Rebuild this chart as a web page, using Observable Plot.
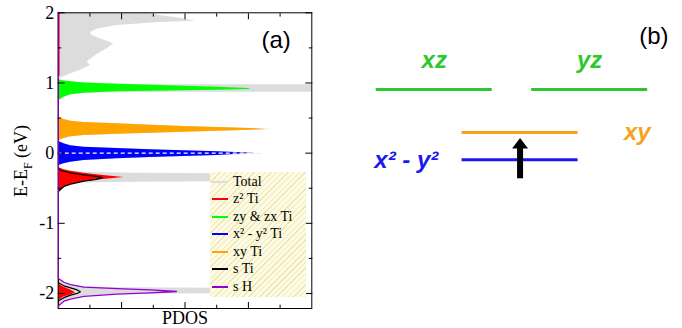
<!DOCTYPE html>
<html><head><meta charset="utf-8">
<script src="https://cdn.jsdelivr.net/npm/d3@7"></script>
<script src="https://cdn.jsdelivr.net/npm/@observablehq/plot@0.6"></script>
<style>
html,body{margin:0;padding:0;background:#fff;}
#wrap{position:relative;width:682px;height:328px;overflow:hidden;background:#fff;}
#pa{position:absolute;left:0;top:0;}
#pb{position:absolute;left:320px;top:0;}
#legend{position:absolute;left:210px;top:172px;width:96px;height:125px;
  background:repeating-linear-gradient(135deg,#fdfbe4 0px,#fdfbe4 3px,#ede6ae 3px,#ede6ae 4px);
  font-family:"Liberation Serif",serif;font-size:14px;color:#000;}
.row{position:absolute;left:0;height:16px;line-height:16px;white-space:nowrap;}
.sw{position:absolute;left:2px;top:7px;width:16px;height:2px;}
.lb{position:absolute;left:23px;top:0;}
</style></head><body>
<div id="wrap"><div id="pa"></div><div id="pb"></div><div id="legend"></div></div>
<script>
// ---------- Panel (a): PDOS, pairs of [E - E_F (eV), PDOS] ----------
const totalDOS = [
  [2.05,2.4],[2.0,2.8],[1.96,3.2],[1.93,3.75],[1.90,4.1],[1.88,4.33],[1.86,3.2],[1.82,1.86],
  [1.77,1.25],[1.72,1.02],[1.68,1.05],[1.63,1.33],[1.56,1.75],[1.49,1.55],[1.39,1.18],[1.30,0.91],
  [1.25,1.02],[1.18,0.70],[1.11,0.28],[1.07,0.1],[1.059,0.05],[1.035,0.12],[1.017,0.45],[1.0,0.9],
  [0.983,1.95],[0.976,3.5],[0.972,9.5],[0.87,9.5],[0.866,4.0],[0.86,1.9],[0.854,0.85],[0.831,0.42],
  [0.797,0.2],[0.75,0.02],[0.62,0],[0.504,0.02],[0.479,0.2],[0.455,0.42],[0.437,0.83],[0.418,1.9],
  [0.398,2.95],[0.38,4.0],[0.366,5.05],[0.351,6.1],[0.337,6.75],[0.327,6.15],[0.313,5.05],[0.299,4.0],
  [0.284,2.95],[0.27,1.9],[0.251,0.83],[0.233,0.42],[0.209,0.2],[0.18,0.02],[0.166,0.02],[0.133,0.2],
  [0.105,0.42],[0.085,0.83],[0.066,1.9],[0.048,2.95],[0.033,4.0],[0.019,5.05],[0.0,6.2],[-0.01,6.6],
  [-0.033,5.05],[-0.048,4.0],[-0.062,2.95],[-0.081,1.9],[-0.105,0.83],[-0.129,0.42],[-0.152,0.2],
  [-0.176,0.02],[-0.19,0.02],[-0.209,0.05],[-0.237,0.2],[-0.257,0.45],[-0.275,1.0],[-0.286,2.5],
  [-0.292,5.0],[-0.30,6.5],[-0.35,7.0],[-0.40,6.5],[-0.408,5.0],[-0.414,2.5],[-0.425,0.8],[-0.447,0.42],
  [-0.485,0.2],[-0.556,0.02],[-0.6,0],[-1.75,0],[-1.79,0.02],[-1.84,0.18],[-1.875,0.39],[-1.905,0.81],
  [-1.918,2.0],[-1.925,5.0],[-1.965,6.5],[-2.005,5.0],[-2.012,2.0],[-2.04,0.81],[-2.08,0.39],
  [-2.11,0.18],[-2.17,0.02],[-2.22,0]
];
const zyzxTi = [
  [1.07,0],[1.059,0.02],[1.035,0.07],[1.017,0.39],[1.0,0.81],[0.983,1.86],[0.969,2.91],[0.955,3.96],
  [0.94,5.02],[0.921,6.0],[0.914,6.07],[0.907,6.0],[0.897,5.02],[0.888,3.96],[0.883,2.91],[0.874,1.86],
  [0.854,0.81],[0.831,0.39],[0.797,0.18],[0.75,0.02],[0.74,0]
];
const xyTi = [
  [0.51,0],[0.504,0.02],[0.479,0.18],[0.455,0.39],[0.437,0.81],[0.418,1.86],[0.398,2.91],[0.38,3.96],
  [0.366,5.02],[0.351,6.07],[0.337,6.59],[0.327,6.07],[0.313,5.02],[0.299,3.96],[0.284,2.91],[0.27,1.86],
  [0.251,0.81],[0.233,0.39],[0.209,0.18],[0.18,0.02],[0.175,0]
];
const x2y2Ti = [
  [0.17,0],[0.166,0.02],[0.133,0.18],[0.105,0.39],[0.085,0.81],[0.066,1.86],[0.048,2.91],[0.033,3.96],
  [0.019,5.02],[0.0,6.17],[-0.033,5.02],[-0.048,3.96],[-0.062,2.91],[-0.081,1.86],[-0.105,0.81],
  [-0.129,0.39],[-0.152,0.18],[-0.176,0.02],[-0.18,0]
];
const z2Ti = [
  [2.05,0.06],[1.1,0.06],[1.08,0],[-0.2,0],[-0.209,0.02],[-0.237,0.18],[-0.257,0.39],[-0.286,0.81],
  [-0.314,1.34],[-0.346,2.07],[-0.38,1.34],[-0.404,0.81],[-0.447,0.39],[-0.485,0.18],[-0.556,0.02],
  [-0.57,0],[-1.86,0],[-1.87,0.02],[-1.91,0.18],[-1.95,0.39],[-1.99,0.55],[-2.02,0.39],[-2.05,0.18],
  [-2.10,0.02],[-2.11,0],[-2.22,0]
];
const sTi = [
  [2.05,0],[-0.22,0],[-0.25,0.1],[-0.28,0.39],[-0.309,0.81],[-0.33,1.2],[-0.35,1.39],[-0.375,1.2],
  [-0.40,0.81],[-0.44,0.39],[-0.475,0.18],[-0.54,0.02],[-0.56,0],[-1.83,0],[-1.85,0.02],[-1.89,0.18],
  [-1.92,0.39],[-1.95,0.6],[-1.976,0.70],[-2.0,0.6],[-2.024,0.39],[-2.06,0.18],[-2.10,0.02],
  [-2.12,0],[-2.22,0]
];
const sH = [
  [2.05,0],[-1.78,0],[-1.79,0.02],[-1.84,0.18],[-1.875,0.39],[-1.91,0.81],[-1.93,1.86],[-1.95,2.91],
  [-1.972,3.73],[-1.99,2.91],[-2.01,1.86],[-2.04,0.81],[-2.08,0.39],[-2.11,0.18],[-2.17,0.02],[-2.22,0]
];
const fermiLevel = [0];
const yMajorTicks = [-2, -1, 0, 1, 2];
const yMinorTicks = [-1.5, -0.5, 0.5, 1.5];
const xMajorTicks = [2, 4, 6];
const xMinorTicks = [1, 3, 5, 7];
const legendLabels = ["Total", "z² Ti", "zy & zx Ti", "x² - y² Ti", "xy Ti", "s Ti", "s H"];
const legendKeys = ["total", "z2", "zyzx", "x2y2", "xy", "sTi", "sH"];

// ---------- Panel (b): level scheme ----------
const levelNames = ["xz", "yz", "xy", "x² - y²"];
const levelEnergies = [0.9, 0.9, 0.35, 0];
const levelStarts = [0, 1.34, 0.74, 0.74];
const labelXs = [0.5, 1.84, 2.25, 0.26];
const labelEnergies = [1.27, 1.27, 0.35, 0];
const arrowX = [1.24];
const arrowFrom = [-0.243];
const arrowTo = [0.145];

// ---------- styles ----------
const C = {total: "#dcdcdc", z2: "#ff0000", zyzx: "#00ff00", x2y2: "#0000ff", xy: "#ffa500", sTi: "#000000", sH: "#9400d3"};
const CB = {xz: "#2dc82d", yz: "#2dc82d", xy: "#f7a21b", "x² - y²": "#1a1aee"};

const E = d => d[0], V = d => d[1];
const area = (data, fill) => Plot.areaX(data, {y: E, x: V, fill, clip: true});
const line = (data, stroke) => Plot.lineX(data, {y: E, x: V, stroke, strokeWidth: 1.3, clip: true});

const pa = Plot.plot({
  width: 320, height: 328,
  marginLeft: 57.7, marginRight: 8.7, marginTop: 12.3, marginBottom: 20,
  style: {fontFamily: "Liberation Serif", fontSize: "18px", background: "white", color: "black"},
  x: {domain: [0, 8]},
  y: {domain: [-2.214, 2]},
  marks: [
    area(totalDOS, C.total),
    area(zyzxTi, C.zyzx),
    area(xyTi, C.xy),
    area(x2y2Ti, C.x2y2),
    area(z2Ti, C.z2),
    Plot.ruleY(fermiLevel, {stroke: "white", strokeDasharray: "4,3", strokeWidth: 1.3}),
    line(sTi, C.sTi),
    Plot.frame({stroke: "black"}),
    line(sH, C.sH),
    Plot.axisY({anchor: "left", ticks: yMajorTicks, tickSize: -7, tickPadding: 11, tickFormat: d => String(d), label: null}),
    Plot.axisY({anchor: "left", ticks: yMinorTicks, tickSize: -3.5, tickFormat: () => "", label: null}),
    Plot.axisY({anchor: "right", ticks: yMajorTicks, tickSize: -7, tickFormat: () => "", label: null}),
    Plot.axisY({anchor: "right", ticks: yMinorTicks, tickSize: -3.5, tickFormat: () => "", label: null}),
    Plot.axisX({anchor: "bottom", ticks: xMajorTicks, tickSize: -6, tickFormat: () => "", label: null}),
    Plot.axisX({anchor: "bottom", ticks: xMinorTicks, tickSize: -3.3, tickFormat: () => "", label: null}),
    Plot.axisX({anchor: "top", ticks: xMajorTicks, tickSize: -6, tickFormat: () => "", label: null}),
    Plot.axisX({anchor: "top", ticks: xMinorTicks, tickSize: -3.3, tickFormat: () => "", label: null}),
    Plot.text(["PDOS"], {frameAnchor: "bottom", dy: 10, lineAnchor: "middle", fontSize: 18}),
    Plot.text(["(a)"], {frameAnchor: "top-right", dx: -21, dy: 28, textAnchor: "end", lineAnchor: "middle",
      fontSize: 24, fontFamily: "Liberation Sans"})
  ]
});
document.getElementById("pa").appendChild(pa);

// y-axis title with subscript
const ylab = d3.select(pa).append("text")
  .attr("transform", "translate(27,161) rotate(-90)")
  .attr("text-anchor", "middle")
  .attr("font-family", "Liberation Serif")
  .attr("font-size", 18)
  .attr("fill", "black");
ylab.append("tspan").text("E-E");
ylab.append("tspan").attr("dy", 5).attr("font-size", 12).text("F");
ylab.append("tspan").attr("dy", -5).text(" (eV)");

// legend
const leg = document.getElementById("legend");
legendLabels.forEach((lab, i) => {
  const row = document.createElement("div");
  row.className = "row";
  row.style.top = (1.7 + i * 17.55) + "px";
  row.style.width = "96px";
  const sw = document.createElement("div");
  sw.className = "sw";
  sw.style.background = C[legendKeys[i]];
  const lb = document.createElement("div");
  lb.className = "lb";
  lb.textContent = lab;
  row.appendChild(sw); row.appendChild(lb);
  leg.appendChild(row);
});

// ---------- Panel (b) ----------
const levels = levelNames.map((name, i) => ({name, e: levelEnergies[i], start: levelStarts[i]}));
const labels = levelNames.map((name, i) => ({name, x: labelXs[i], e: labelEnergies[i]}));
const arrows = arrowX.map((x, i) => ({x, from: arrowFrom[i], to: arrowTo[i]}));

const headSymbol = {
  draw(context, size) {
    const r = Math.sqrt(size / Math.PI);
    context.moveTo(-r, 0);
    context.lineTo(r, 0);
    context.lineTo(0, -1.3 * r);
    context.closePath();
  }
};

const pb = Plot.plot({
  width: 362, height: 328, margin: 0,
  style: {background: "white", color: "black"},
  x: {domain: [-0.48, 2.64], axis: null},
  y: {domain: [-2.16, 2.04], axis: null},
  color: {type: "identity"},
  marks: [
    Plot.ruleY(levels, {y: "e", x1: "start", x2: d => d.start + 1, stroke: d => CB[d.name], strokeWidth: 3}),
    Plot.text(labels, {x: "x", y: "e", text: "name", fill: d => CB[d.name], fontFamily: "Liberation Sans",
      fontWeight: "bold", fontStyle: "italic", fontSize: 24, lineAnchor: "middle"}),
    Plot.ruleX(arrows, {x: "x", y1: "from", y2: "to", stroke: "black", strokeWidth: 6}),
    Plot.dot(arrows, {x: "x", y: "to", symbol: headSymbol, r: 8, fill: "black", stroke: null}),
    Plot.text(["(b)"], {frameAnchor: "top-right", dx: -14, dy: 36, textAnchor: "end", lineAnchor: "middle",
      fontSize: 24, fontFamily: "Liberation Sans"})
  ]
});
document.getElementById("pb").appendChild(pb);
</script></body></html>
